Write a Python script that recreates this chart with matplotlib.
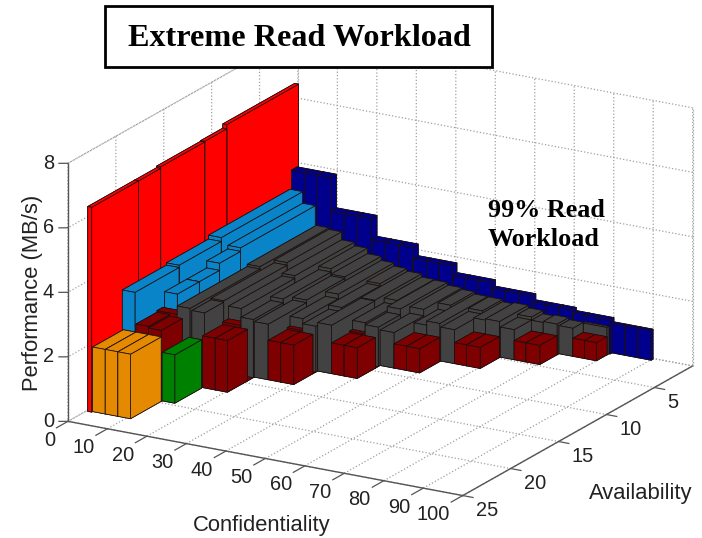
import matplotlib
matplotlib.use("Agg")
import matplotlib.pyplot as plt
from matplotlib.patches import Rectangle
from mpl_toolkits.mplot3d import proj3d

plt.rcParams['font.family'] = ['Liberation Sans', 'DejaVu Sans']

# bars: (conf_from, conf_to, avail_front, avail_back, performance)
red_bars = [(0.4, 1.4, 23.1, 18.2, 6.35), (0.4, 1.4, 18.2, 15.9, 6.35), (0.4, 1.4, 15.9, 11.3, 6.40),
            (0.4, 1.4, 11.3, 9.0, 6.42), (0.4, 1.4, 9.0, 1.5, 6.55)]
orange_bars = [(1.4, 4.6, 23.0, 19.8, 2.0), (4.6, 7.8, 23.0, 19.8, 2.0), (7.8, 11.0, 23.0, 19.8, 2.0)]
green_bars = [(11.0, 14.2, 19.7, 16.9, 1.5)]
blue_bars = [(1.4, 4.6, 19.9, 15.3, 3.25), (1.4, 4.6, 15.3, 10.9, 3.32), (1.4, 4.6, 10.9, 2.4, 3.44),
             (4.6, 7.8, 16.8, 14.5, 2.75), (4.6, 7.8, 14.5, 12.4, 2.75), (4.6, 7.8, 12.4, 10.2, 2.97),
             (4.6, 7.8, 10.2, 2.4, 3.08)]
navy_heights = [4.0, 2.96, 2.29, 1.93, 1.61, 1.39, 1.18, 1.06, 0.93]
navy_edges = [1.3, 11.2, 21.5, 31.7, 41.5, 51.0, 61.0, 71.0, 80.3, 90.2]
navy_front = [2.2, 2.2, 2.1, 2.0, 1.9, 1.7, 1.6, 1.5, 1.3]
navy_back = [1.6, 1.6, 1.5, 1.5, 1.4, 1.3, 1.2, 1.1, 1.1]
darkred_bars = [(4.6, 7.8, 19.8, 17.6, 2.25), (7.8, 11.0, 19.8, 17.6, 2.2), (4.6, 11.0, 17.6, 17.0, 2.3),
                (14.2, 17.4, 16.8, 14.7, 1.6), (17.4, 20.5, 16.8, 14.7, 1.6), (14.2, 20.5, 14.7, 14.1, 1.68),
                (24.0, 27.2, 14.0, 12.0, 1.22), (27.2, 30.5, 14.0, 12.0, 1.22), (24.0, 30.5, 12.0, 11.7, 1.28),
                (34.0, 37.2, 11.5, 9.6, 0.95), (37.2, 40.5, 11.5, 9.6, 0.95), (34.0, 40.5, 9.6, 9.3, 1.0),
                (44.0, 47.2, 9.1, 7.0, 0.75), (47.2, 50.5, 9.1, 7.0, 0.75),
                (54.0, 57.0, 6.9, 4.9, 0.65), (57.0, 60.5, 6.9, 4.9, 0.65),
                (64.0, 67.0, 4.8, 3.0, 0.59), (67.0, 70.5, 4.8, 3.0, 0.59),
                (74.0, 77.0, 2.8, 1.7, 0.56), (77.0, 80.0, 2.8, 1.7, 0.56)]
grey_bars = [(7.8, 11.0, 16.8, 9.5, 2.38), (7.8, 11.0, 9.5, 2.3, 2.45),
             (11.0, 14.2, 16.6, 14.6, 2.28), (11.0, 14.2, 14.6, 8.0, 2.32), (11.0, 14.2, 8.0, 2.3, 2.40),
             (14.2, 17.4, 14.1, 8.5, 2.07), (14.2, 17.4, 8.5, 2.3, 2.15),
             (17.4, 20.5, 14.1, 11.0, 1.80), (17.4, 20.5, 11.0, 6.0, 1.92), (17.4, 20.5, 6.0, 2.2, 2.02),
             (20.5, 24.0, 14.0, 10.0, 1.72), (20.5, 24.0, 10.0, 6.0, 1.80), (20.5, 24.0, 6.0, 2.2, 1.85),
             (24.0, 27.2, 11.7, 8.0, 1.58), (24.0, 27.2, 8.0, 2.2, 1.72),
             (27.2, 30.5, 11.7, 9.0, 1.42), (27.2, 30.5, 9.0, 5.0, 1.55), (27.2, 30.5, 5.0, 2.2, 1.62),
             (30.5, 34.0, 11.5, 7.0, 1.50), (30.5, 34.0, 7.0, 2.1, 1.52),
             (34.0, 37.2, 9.3, 6.0, 1.28), (34.0, 37.2, 6.0, 2.1, 1.42),
             (37.2, 40.5, 9.3, 7.0, 1.22), (37.2, 40.5, 7.0, 2.1, 1.40),
             (40.5, 44.0, 9.1, 6.0, 1.10), (40.5, 44.0, 6.0, 2.0, 1.30),
             (44.0, 47.2, 7.0, 4.5, 1.05), (44.0, 47.2, 4.5, 2.0, 1.25),
             (47.2, 50.5, 7.0, 2.0, 1.18),
             (50.5, 54.0, 6.9, 4.0, 1.05), (50.5, 54.0, 4.0, 1.9, 1.15),
             (54.0, 57.0, 4.9, 1.9, 1.08), (57.0, 60.5, 4.9, 1.9, 1.12),
             (60.5, 64.0, 4.8, 3.0, 0.93), (60.5, 64.0, 3.0, 1.8, 1.02),
             (64.0, 67.0, 3.0, 1.8, 0.92), (67.0, 70.5, 3.0, 1.8, 0.95),
             (70.5, 74.0, 2.8, 1.7, 0.87), (74.0, 80.0, 1.7, 1.5, 0.85)]

conf_ticks = list(range(0, 101, 10))
avail_ticks = [5, 10, 15, 20, 25]
perf_ticks = [0, 2, 4, 6, 8]

AXIS_GREY = '#555555'
TEXT_COL = '#222222'
GRID_COL = '#a0a0a0'


def navy_bars():
    res = []
    for i, h in enumerate(navy_heights):
        w = (navy_edges[i + 1] - navy_edges[i]) / 3
        for s in range(3):
            x0 = navy_edges[i] + s * w
            res.append((x0, x0 + w, navy_front[i], navy_back[i], h))
    return res


def tick(ax, p0, p1, label, off, ha):
    # MATLAB style tick: line in 3D, label at a pixel offset from the axis point
    ax.plot(*zip(p0, p1), color=AXIS_GREY, lw=0.9, zorder=400)
    xp, yp, _ = proj3d.proj_transform(*p0, ax.get_proj())
    ax.annotate(str(label), (xp, yp), xytext=off, textcoords='offset pixels', fontsize=14.4,
                color=TEXT_COL, ha=ha, va='center', annotation_clip=False, zorder=401)


fig = plt.figure(figsize=(7.02, 5.38), dpi=100)
# axes bigger than the figure: 3D collections get clipped to the axes box
ax = fig.add_axes([(369.5 - 400) / 702, (538 - 275.4 - 400) / 538, 800 / 702, 800 / 538],
                  projection='3d', proj_type='ortho', computed_zorder=False)
ax.view_init(elev=19, azim=-60)
ax.set_box_aspect((456, 460, 273), zoom=1.268 * 538 / 800)

# red wall, then the far row, then left to right, back to front
back = [(b, '#ff0000') for b in sorted(red_bars, key=lambda b: b[2])] + [(b, '#00008c') for b in navy_bars()]
rest = ([(b, '#e58a00') for b in orange_bars] + [(b, '#008000') for b in green_bars]
        + [(b, '#0984c8') for b in blue_bars] + [(b, '#7f0000') for b in darkred_bars]
        + [(b, '#424242') for b in grey_bars])
rest.sort(key=lambda r: (r[0][0], r[0][2]))
z = 2
for (x0, x1, yf, yb, h), col in back + rest:
    ax.bar3d(x0, yb, 0, x1 - x0, yf - yb, h, color=col, edgecolor='#1a1010', linewidth=0.55,
             shade=False, zorder=z)
    z += 1

ax.set_xlim(0, 100)
ax.set_ylim(25, 1)
ax.set_zlim(0, 8)
ax.set_xticks(conf_ticks)
ax.set_yticks(avail_ticks)
ax.set_zticks(perf_ticks)
ax.set_xticklabels([])
ax.set_yticklabels([])
ax.set_zticklabels([])
ax.zaxis.set_ticks_position('upper')

for a in (ax.xaxis, ax.yaxis, ax.zaxis):
    a.set_pane_color((1, 1, 1, 1))
    a.pane.set_edgecolor('white')
    a.line.set_color(AXIS_GREY)
    a.line.set_linewidth(1.0)
    a._axinfo['grid'].update(color=GRID_COL, linewidth=0.9, linestyle=':')
    a._axinfo['tick'].update(inward_factor=0.0, outward_factor=0.0, linewidth={True: 0.0, False: 0.0})

# box edges that have no tick on them
ax.plot([0, 100], [1, 1], [0, 0], color=GRID_COL, lw=0.9, ls=':', zorder=1)
ax.plot([0, 0], [1, 1], [0, 8], color=GRID_COL, lw=0.9, ls=':', zorder=1)
ax.plot([0, 0], [25, 1], [8, 8], color=GRID_COL, lw=0.9, ls=':', zorder=1)
ax.plot([100, 100], [1, 1], [0, 8], color=GRID_COL, lw=0.9, ls=':', zorder=1)

fig.canvas.draw()
for t in conf_ticks:
    tick(ax, (t, 25, 0), (t, 26.2, 0), t, (-13, -19), 'right')
for t in avail_ticks:
    tick(ax, (100, t, 0), (102.6, t, 0), t, (13, -15), 'left')
for t in perf_ticks:
    tick(ax, (0, 25, t), (-1.7, 25.24, t), t, (-14, 0), 'right')

fig.text(262 / 702, 1 - 525 / 538, 'Confidentiality', fontsize=15.8, color=TEXT_COL, ha='center', va='center')
fig.text(641 / 702, 1 - 494 / 538, 'Availability', fontsize=15.8, color=TEXT_COL, ha='center', va='center')
fig.text(33 / 702, 1 - 293 / 538, 'Performance (MB/s)', fontsize=15.8, color=TEXT_COL, rotation=90,
         ha='center', va='center')

fig.add_artist(Rectangle((105 / 702, 1 - 67 / 538), 387 / 702, 61 / 538, transform=fig.transFigure,
                         facecolor='white', edgecolor='black', linewidth=2.0, zorder=5))
fig.text(299 / 702, 1 - 38 / 538, 'Extreme Read Workload', fontsize=23.2, fontweight='bold',
         family='Liberation Serif', ha='center', va='center', zorder=6)
fig.text(488 / 702, 1 - 225 / 538, '99% Read\nWorkload', fontsize=18.8, fontweight='bold',
         family='Liberation Serif', ha='left', va='center', linespacing=1.35, zorder=6)

fig.savefig('out.png', dpi=100)
